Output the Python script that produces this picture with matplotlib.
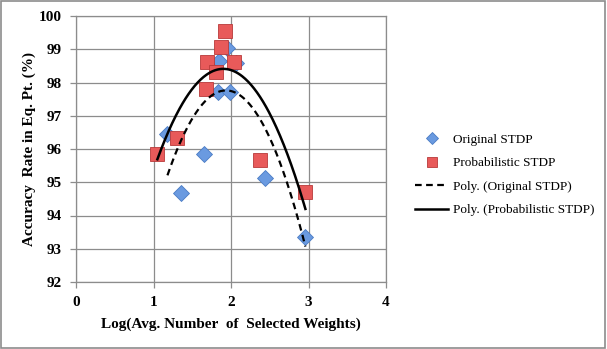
import numpy as np
import matplotlib
matplotlib.use("Agg")
import matplotlib.pyplot as plt
from matplotlib.patches import Rectangle

# data
orig_x = [1.18, 1.35, 1.65, 1.83, 1.85, 1.95, 1.99, 2.07, 2.44, 2.96]
orig_y = [96.46, 94.68, 95.85, 97.70, 98.66, 99.04, 97.70, 98.58, 95.13, 93.35]
prob_x = [1.05, 1.30, 1.68, 1.69, 1.81, 1.87, 1.92, 2.04, 2.37, 2.96]
prob_y = [95.85, 96.33, 97.80, 98.61, 98.33, 99.07, 99.55, 98.61, 95.68, 94.70]

x_ticks = [0, 1, 2, 3, 4]
y_ticks = [92, 93, 94, 95, 96, 97, 98, 99, 100]

plt.rcParams['font.family'] = ['Liberation Serif', 'DejaVu Serif']

fig = plt.figure(figsize=(6.07, 3.49), dpi=100)
ax = fig.add_axes([76 / 607, 1 - 282 / 349, 310 / 607, 266 / 349])

grid_c = '#8c8c8c'

# trendlines (2nd order polynomial, like Excel)
c_o = np.polyfit(orig_x, orig_y, 2)
c_p = np.polyfit(prob_x, prob_y, 2)
xo = np.linspace(min(orig_x), max(orig_x), 200)
xp = np.linspace(min(prob_x), max(prob_x), 200)

ax.plot(orig_x, orig_y, 'D', ms=8, color='#6a9ae0', mec='#4a7bc4', mew=0.6,
        label='Original STDP', zorder=3)
ax.plot(prob_x, prob_y, 's', ms=10, color='#e85a5a', mec='#b83a3a', mew=0.6,
        label='Probabilistic STDP', zorder=3)
ax.plot(xo, np.polyval(c_o, xo), '--', color='black', lw=1.6, dashes=(3, 2),
        label='Poly. (Original STDP)', zorder=4)
ax.plot(xp, np.polyval(c_p, xp), '-', color='black', lw=1.8,
        label='Poly. (Probabilistic STDP)', zorder=4)

ax.set_xlim(0, 4)
ax.set_ylim(92, 100)
ax.set_xticks(x_ticks)
ax.set_yticks(y_ticks)
ax.grid(True, color=grid_c, lw=0.9)
ax.set_axisbelow(True)
for s in ax.spines.values():
    s.set_color(grid_c)
    s.set_linewidth(0.9)
ax.tick_params(colors=grid_c, length=4, width=0.9, labelcolor='black')
ax.tick_params(axis='x', pad=6)
ax.tick_params(axis='y', pad=6)
for lab in ax.get_xticklabels() + ax.get_yticklabels():
    lab.set_fontweight('bold')
    lab.set_fontsize(11)

ax.set_xlabel('Log(Avg. Number  of  Selected Weights)', fontsize=11,
              fontweight='bold', labelpad=6)
ax.set_ylabel('Accuracy  Rate in Eq. Pt. (%)', fontsize=11,
              fontweight='bold', labelpad=2)

leg = ax.legend(loc='center left', bbox_to_anchor=(410 / 607, 1 - 175 / 349),
                bbox_transform=fig.transFigure, frameon=False, fontsize=9.5,
                handlelength=2.5, handletextpad=0.35, labelspacing=0.85,
                markerscale=0.75, borderaxespad=0)

# outer chart border
fig.patches.append(Rectangle((0.001, 0.002), 0.996, 0.995, transform=fig.transFigure,
                             fill=False, edgecolor='#8c8c8c', lw=1.2))

fig.savefig('out.png', dpi=100)
